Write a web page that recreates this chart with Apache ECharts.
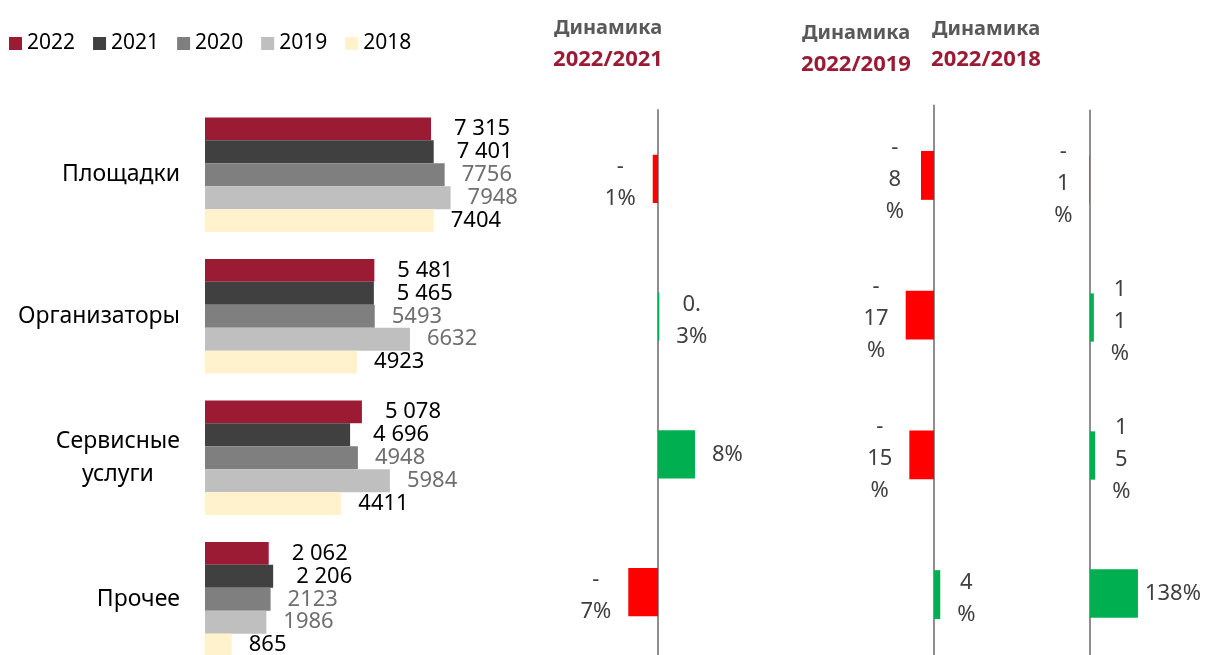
<!DOCTYPE html>
<html>
<head>
<meta charset="utf-8">
<script src="https://cdn.jsdelivr.net/npm/echarts@6/dist/echarts.min.js"></script>
<style>
html, body { margin: 0; padding: 0; background: #fff; overflow: hidden; }
#main { width: 1205px; height: 720px; }
</style>
</head>
<body>
<div id="main"></div>
<script>
var categories = ['Площадки', 'Организаторы', 'Сервисные\nуслуги', 'Прочее'];
var years = ['2022', '2021', '2020', '2019', '2018'];
var v2022 = [7315, 5481, 5078, 2062];
var v2021 = [7401, 5465, 4696, 2206];
var v2020 = [7756, 5493, 4948, 2123];
var v2019 = [7948, 6632, 5984, 1986];
var v2018 = [7404, 4923, 4411, 865];

// динамика, %
var dyn2021 = [-1.16, 0.29, 8.13, -6.53];
var dyn2019 = [-7.96, -17.36, -15.14, 3.83];
var dyn2018 = [-1.2, 11.33, 15.12, 138.4];
var dynLabels2021 = ['-\n1%', '0.\n3%', '8%', '-\n7%'];
var dynLabels2019 = ['-\n8\n%', '-\n17\n%', '-\n15\n%', '4\n%'];
var dynLabels2018 = ['-\n1\n%', '1\n1\n%', '1\n5\n%', '138%'];

var FONT = '"Noto Sans", "Liberation Sans", sans-serif';
var colors = ['#9B1B34', '#404040', '#7F7F7F', '#BFBFBF', '#FFF2CC'];
var labelColors = ['#000', '#000', '#6f6f6f', '#6f6f6f', '#000'];
var labelDist = [23, 23, 17, 17, 17];
var values = [v2022, v2021, v2020, v2019, v2018];

function spaced(v) {
	return String(v).replace(/\B(?=(\d{3})+(?!\d))/g, ' ');
}
function centerLines(s) {
	return s.split('\n').map(function(l) { return '{c|' + l + '}'; }).join('\n');
}

var myChart = echarts.init(document.getElementById('main'));

var series = [];
years.forEach(function(y, i) {
	series.push({
		name: y,
		type: 'bar',
		xAxisIndex: 0,
		yAxisIndex: 0,
		barGap: '0%',
		barCategoryGap: '19%',
		itemStyle: { color: colors[i] },
		label: {
			show: true,
			position: 'right',
			distance: labelDist[i],
			color: labelColors[i],
			fontFamily: FONT,
			fontSize: 22,
			formatter: function(p) {
				return i < 2 ? spaced(p.value) : String(p.value);
			}
		},
		data: values[i]
	});
});

function dynSeries(idx, vals, labels) {
	return {
		type: 'bar',
		xAxisIndex: idx,
		yAxisIndex: idx,
		barCategoryGap: '65%',
		itemStyle: {
			color: function(p) { return p.value < 0 ? '#FF0000' : '#00B050'; }
		},
		label: {
			show: true,
			color: '#404040',
			formatter: function(p) { return centerLines(labels[p.dataIndex]); },
			rich: {
				c: { align: 'center', fontFamily: FONT, fontSize: 22, lineHeight: 32, color: '#404040' }
			}
		},
		data: vals.map(function(v, k) {
			var lbl = { position: v < 0 ? 'left' : 'right', distance: 17 };
			if (labels[k].indexOf('\n') >= 0) lbl.offset = [0, 4];
			if (idx === 3 && k === 3) lbl.distance = 7;
			return { value: v, label: lbl };
		})
	};
}
series.push(dynSeries(1, dyn2021, dynLabels2021));
series.push(dynSeries(2, dyn2019, dynLabels2019));
series.push(dynSeries(3, dyn2018, dynLabels2018));

function panelY(i) {
	return {
		type: 'category',
		gridIndex: i,
		inverse: true,
		data: categories,
		axisTick: { show: false },
		axisLabel: { show: false },
		axisLine: { show: true, onZero: true, lineStyle: { color: '#8f8f8f', width: 2 } }
	};
}
function panelX(i, mn, mx) {
	return { type: 'value', gridIndex: i, min: mn, max: mx, show: false };
}

function header(x, y1, y2, sub) {
	return [{
		type: 'text', x: x, y: y1,
		style: { text: 'Динамика', textAlign: 'center', textVerticalAlign: 'middle',
			font: 'bold 20px ' + FONT, fill: '#595959' }
	}, {
		type: 'text', x: x, y: y2,
		style: { text: sub, textAlign: 'center', textVerticalAlign: 'middle',
			font: 'bold 22px ' + FONT, fill: '#9B1B34' }
	}];
}

option = {
	animation: false,
	legend: {
		data: years,
		left: 4,
		top: 28,
		icon: 'rect',
		itemWidth: 13,
		itemHeight: 13,
		itemGap: 18,
		textStyle: { fontFamily: FONT, fontSize: 21, color: '#000' }
	},
	graphic: [].concat(
		header(608, 28, 60, '2022/2021'),
		header(856, 33, 65, '2022/2019'),
		header(986, 29, 60, '2022/2018')
	),
	grid: [
		{ left: 205, top: 104, width: 309, height: 566 },
		{ left: 612.5, top: 110, width: 91, height: 551 },
		{ left: 901.4, top: 105.5, width: 65.2, height: 559 },
		{ left: 1083, top: 110.5, width: 55.5, height: 552 }
	],
	xAxis: [
		{ type: 'value', gridIndex: 0, min: 0, max: 10000, show: false },
		panelX(1, -10, 10),
		panelX(2, -20, 20),
		panelX(3, -20, 140)
	],
	yAxis: [
		{
			type: 'category',
			gridIndex: 0,
			inverse: true,
			data: categories,
			axisLine: { show: false },
			axisTick: { show: false },
			axisLabel: {
				margin: 25,
				formatter: centerLines,
				rich: { c: { align: 'center', fontFamily: FONT, fontSize: 23, lineHeight: 33, color: '#000' } }
			}
		},
		panelY(1),
		panelY(2),
		panelY(3)
	],
	series: series
};
myChart.setOption(option);
</script>
</body>
</html>
